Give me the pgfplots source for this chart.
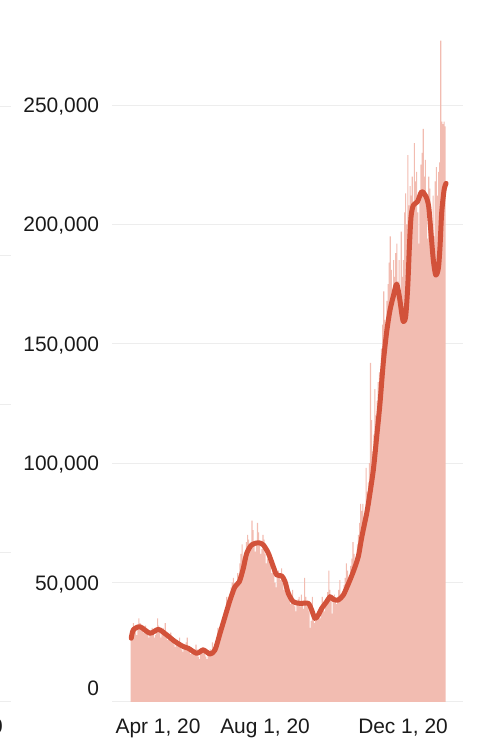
\documentclass[border=0pt]{standalone}
\usepackage{pgfplots}
\pgfplotsset{compat=1.18}
\usepackage{pgfplotstable}
\usepackage{fontspec}
\setmainfont{Liberation Sans}
\definecolor{barc}{HTML}{F2BCB1}
\definecolor{linec}{HTML}{D2523A}
\definecolor{gridc}{HTML}{EDEDED}
\definecolor{txt}{HTML}{1A1A1A}
\pgfplotstableread{
d v
88 27000
89 29000
90 33000
91 31000
92 30000
93 28000
94 31000
95 35000
96 33000
97 31000
98 30000
99 29000
100 31000
101 32000
102 30000
103 28000
104 27000
105 28000
106 30000
107 31000
108 29000
109 27000
110 28000
111 31000
112 35000
113 32000
114 29000
115 27000
116 29000
117 31000
118 30000
119 33000
120 28000
121 26000
122 27000
123 28000
124 29000
125 27000
126 25000
127 24000
128 23000
129 25000
130 26000
131 25000
132 27000
133 24000
134 22000
135 21000
136 23000
137 24000
138 25000
139 27000
140 23000
141 21000
142 20000
143 21000
144 22000
145 21000
146 22000
147 24000
148 22000
149 19000
150 18000
151 20000
152 22000
153 23000
154 23000
155 21000
156 19000
157 18000
158 20000
159 21000
160 22000
161 21000
162 25000
163 20000
164 22000
165 24000
166 26000
167 31000
168 29000
169 27000
170 30000
171 33000
172 36000
173 38000
174 36000
175 44000
176 40000
177 41000
178 45000
179 48000
180 50000
181 52000
182 49000
183 46000
184 50000
185 54000
186 53000
187 58000
188 62000
189 66000
190 60000
191 57000
192 62000
193 67000
194 70000
195 68000
196 64000
197 66000
198 76000
199 72000
200 66000
201 63000
202 67000
203 75000
204 71000
205 66000
206 62000
207 64000
208 70000
209 68000
210 62000
211 58000
212 60000
213 64000
214 62000
215 57000
216 54000
217 57000
218 55000
219 50000
220 48000
221 52000
222 55000
223 53000
224 51000
225 56000
226 50000
227 47000
228 48000
229 50000
230 47000
231 45000
232 43000
233 41000
234 44000
235 47000
236 43000
237 40000
238 38000
239 41000
240 43000
241 44000
242 40000
243 45000
244 42000
245 39000
246 52000
247 44000
248 40000
249 42000
250 38000
251 31000
252 34000
253 44000
254 36000
255 33000
256 34000
257 37000
258 38000
259 36000
260 35000
261 40000
262 44000
263 41000
264 38000
265 40000
266 43000
267 46000
268 55000
269 47000
270 44000
271 37000
272 42000
273 45000
274 43000
275 41000
276 44000
277 47000
278 51000
279 45000
280 43000
281 46000
282 49000
283 52000
284 58000
285 55000
286 50000
287 53000
288 57000
289 60000
290 67000
291 62000
292 58000
293 61000
294 66000
295 70000
296 75000
297 83000
298 80000
299 83000
300 74000
301 79000
302 98000
303 88000
304 92000
305 100000
306 142000
307 118000
308 105000
309 112000
310 131000
311 120000
312 126000
313 134000
314 138000
315 130000
316 148000
317 158000
318 172000
319 160000
320 150000
321 168000
322 175000
323 184000
324 195000
325 181000
326 170000
327 185000
328 178000
329 188000
330 192000
331 176000
332 185000
333 165000
334 197000
335 178000
336 185000
337 205000
338 213000
339 200000
340 229000
341 208000
342 216000
343 212000
344 220000
345 205000
346 234000
347 218000
348 222000
349 205000
350 192000
351 214000
352 225000
353 230000
354 240000
355 220000
356 227000
357 210000
358 194000
359 220000
360 215000
361 205000
362 198000
363 212000
364 195000
365 218000
366 224000
367 212000
368 222000
369 226000
370 277000
371 243000
372 242000
373 243000
374 241000
}\daily
\begin{document}
\begin{tikzpicture}[x=1bp,y=1bp]
\useasboundingbox (0,0) rectangle (480,754);
% cropped neighbour chart at the left edge
\foreach \yy in {647,498,349,201,52} \draw[gridc, line width=1bp] (0,\yy) -- (11,\yy);
\node[anchor=base east, inner sep=0pt, text=txt, font=\fontsize{21}{25}\selectfont] at (3,20) {0};
\begin{axis}[
  at={(112bp,52bp)}, anchor=south west,
  scale only axis, width=351bp, height=692.5bp,
  xmin=70.46, xmax=390.25, ymin=0, ymax=290000,
  axis line style={draw=none}, tick style={draw=none},
  major tick length=0pt,
  ymajorgrids, major grid style={gridc, line width=1bp},
  ytick={0,50000,100000,150000,200000,250000},
  yticklabels={\raisebox{14bp}{0},{50,000},{100,000},{150,000},{200,000},{250,000}},
  yticklabel style={font=\fontsize{21}{25}\selectfont, text=txt, anchor=base east, inner sep=0pt, xshift=-12.7bp, yshift=-7.5bp},
  xtick={112.4,209.9,335.6},
  xticklabels={{Apr 1, 20},{Aug 1, 20},{Dec 1, 20}},
  xticklabel style={font=\fontsize{21}{25}\selectfont, text=txt, anchor=base, inner sep=0pt, yshift=-32bp},
  clip=false,
]
\addplot[ybar, bar width=1, fill=barc, draw=none] table[x=d, y=v] {\daily};
\addplot[smooth, tension=0.45, color=linec, line width=5bp, line cap=round, line join=round] coordinates {
(88,26700) (89.9,30200) (96,31500) (105.1,28800) (112.7,30400) (120.3,28100) (127.9,25300) (135.5,23200) (140,22500) (147.6,20400) (153.6,21800) (159.7,20100) (164.3,21800) (168.9,28800) (173.4,35700) (178,42700) (182.5,48300) (186.5,50400) (190.1,56000) (193.2,62300) (197.7,65800) (203.8,66700) (208.3,65800) (212.9,62300) (217.4,56700) (220.5,53200) (225.1,52800) (228.1,50400) (231.1,45500) (235.6,42000) (241.7,41300) (249.3,41300) (252.4,38500) (255.4,35000) (258.4,36400) (261.5,39200) (266,42000) (269.1,44100) (272.1,43000) (276.6,42700) (281.2,44800) (285.8,49500) (290.3,54600) (294.9,61000) (298,69000) (302.5,79000) (304,83000) (308.5,97000) (311.6,111000) (314.6,125000) (317.6,142000) (320.7,155000) (323.7,164000) (326.8,170000) (329.8,175000) (332.5,169000) (334.4,162800) (335.9,159300) (338,161400) (339.9,174000) (341.4,190700) (342.9,203200) (345,208000) (348.7,209500) (352.6,213700) (356.6,211600) (359,207400) (361.1,196300) (363.2,185100) (365.4,178800) (367.8,181600) (369.3,190700) (370.8,204700) (373,214400) (374.8,217200)
};
\end{axis}
\end{tikzpicture}
\end{document}
